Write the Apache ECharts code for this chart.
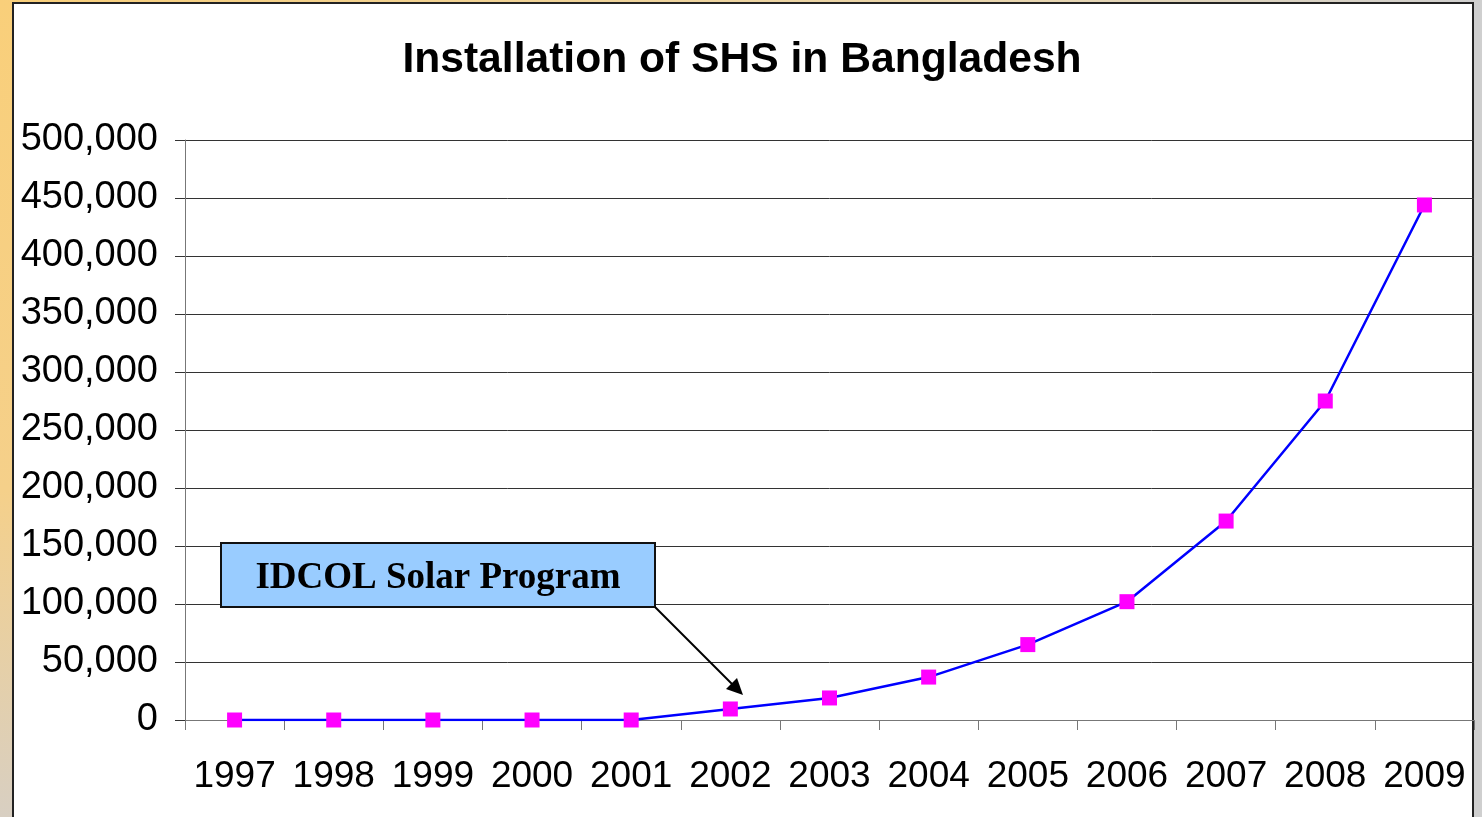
<!DOCTYPE html>
<html>
<head>
<meta charset="utf-8">
<script src="https://cdn.jsdelivr.net/npm/echarts@6/dist/echarts.min.js"></script>
<style>
  html, body { margin: 0; padding: 0; }
  body {
    width: 1482px; height: 817px; position: relative; overflow: hidden;
    background: #cfcfcf;
  }
  .leftStrip {
    position: absolute; left: 0; top: 0; width: 13px; height: 817px;
    background: linear-gradient(#f9cf7a, #f5d08a 60%, #d8cfc2);
  }
  .topStrip {
    position: absolute; left: 0; top: 0; width: 1482px; height: 3px;
    background: linear-gradient(90deg, #f9cf7a, #e8d6b0 70%, #cfcfcf);
  }
  .panel {
    position: absolute; left: 12px; top: 2px; width: 1458px; height: 820px;
    background: #fff; border: 2px solid #222;
  }
  #chart { position: absolute; left: 0; top: 0; width: 1482px; height: 817px; }
</style>
</head>
<body>
<div class="leftStrip"></div>
<div class="topStrip"></div>
<div class="panel"></div>
<div id="chart"></div>
<script>
// data
const years = ["1997", "1998", "1999", "2000", "2001", "2002", "2003",
  "2004", "2005", "2006", "2007", "2008", "2009"];
const installations = [0, 0, 0, 0, 0, 9500, 19000, 37000, 65000,
  102000, 171500, 275000, 444000];
const titleText = "Installation of SHS in Bangladesh";
const noteText = "IDCOL Solar Program";

const chart = echarts.init(document.getElementById("chart"));

const option = {
  animation: false,
  backgroundColor: "transparent",
  title: {
    text: titleText,
    left: 737,
    textAlign: "center",
    top: 34,
    textStyle: {
      fontFamily: "Liberation Sans, Arial, sans-serif",
      fontSize: 42.6,
      fontWeight: "bold",
      color: "#000",
    },
  },
  grid: { left: 185, right: 8, top: 140, bottom: 97 },
  xAxis: {
    type: "category",
    data: years,
    boundaryGap: true,
    axisLine: { lineStyle: { color: "#777", width: 1 } },
    axisTick: { show: true, length: 10, lineStyle: { color: "#777" } },
    axisLabel: {
      margin: 38,
      color: "#000",
      fontFamily: "Liberation Sans, Arial, sans-serif",
      fontSize: 37,
      interval: 0,
    },
    splitLine: { show: false },
  },
  yAxis: {
    type: "value",
    min: 0,
    max: 500000,
    interval: 50000,
    axisLine: { show: true, lineStyle: { color: "#777", width: 1 } },
    axisTick: { show: true, length: 10, lineStyle: { color: "#333" } },
    axisLabel: {
      margin: 27,
      color: "#000",
      fontFamily: "Liberation Sans, Arial, sans-serif",
      fontSize: 38,
      padding: [3, 0, 0, 0],
      formatter: (v) => v.toLocaleString("en-US"),
    },
    splitLine: { show: true, lineStyle: { color: "#333", width: 1 } },
  },
  series: [
    {
      type: "line",
      data: installations,
      symbol: "rect",
      symbolSize: 15,
      lineStyle: { color: "#0000ff", width: 2.5 },
      itemStyle: { color: "#ff00ff" },
      z: 3,
    },
  ],
  graphic: [
    {
      type: "rect",
      shape: { x: 221, y: 543, width: 434, height: 64 },
      style: { fill: "#99ccff", stroke: "#111", lineWidth: 2 },
      z: 10,
    },
    {
      type: "text",
      x: 438,
      y: 578,
      style: {
        text: noteText,
        fill: "#000",
        font: "bold 37px 'Liberation Serif', 'Times New Roman', serif",
        align: "center",
        verticalAlign: "middle",
      },
      z: 11,
    },
    {
      type: "line",
      shape: { x1: 655, y1: 607, x2: 736, y2: 688 },
      style: { stroke: "#000", lineWidth: 2 },
      z: 10,
    },
    {
      type: "polygon",
      shape: { points: [[743, 695], [726, 689], [737, 678]] },
      style: { fill: "#000" },
      z: 10,
    },
  ],
};

chart.setOption(option);
</script>
</body>
</html>
